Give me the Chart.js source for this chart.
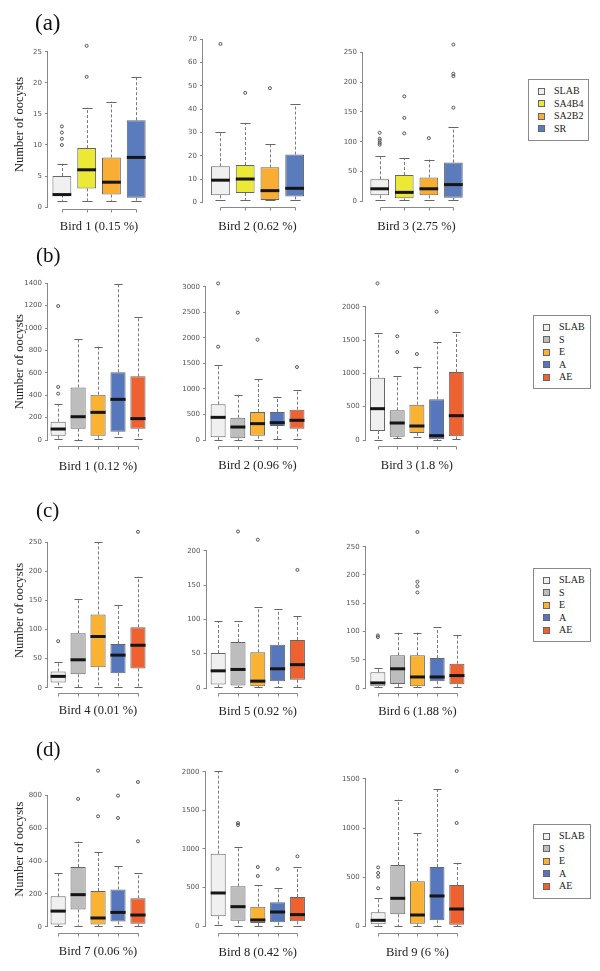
<!DOCTYPE html>
<html><head><meta charset="utf-8">
<script src="https://cdn.jsdelivr.net/npm/chart.js@4.4.0/dist/chart.umd.min.js"></script>
<style>
body{margin:0;background:#fff;width:600px;height:971px;position:relative;overflow:hidden;font-family:"Liberation Serif","Times New Roman",serif;}
canvas{position:absolute;}
.plab{position:absolute;color:#111;white-space:nowrap;}
.leg{position:absolute;border:1px solid #8a8a8a;box-sizing:border-box;}
.li{position:absolute;font-size:10px;line-height:10px;color:#222;white-space:nowrap;}
.sw{position:absolute;width:7px;height:7px;border:1px solid #666;box-sizing:border-box;}
</style></head><body>
<script>
// ---------------- DATA ----------------
const groupsA = ['SLAB','SA4B4','SA2B2','SR'];
const groupsB = ['SLAB','S','E','A','AE'];
const birdLabels = ['Bird 1 (0.15 %)','Bird 2 (0.62 %)','Bird 3 (2.75 %)',
  'Bird 1 (0.12 %)','Bird 2 (0.96 %)','Bird 3 (1.8 %)',
  'Bird 4 (0.01 %)','Bird 5 (0.92 %)','Bird 6 (1.88 %)',
  'Bird 7 (0.06 %)','Bird 8 (0.42 %)','Bird 9 (6 %)'];
const panelLetters = ['(a)','(b)','(c)','(d)'];
const yAxisTitle = 'Number of oocysts';
const yTicks = [
  [0,5,10,15,20,25],[0,10,20,30,40,50,60,70],[0,50,100,150,200,250],
  [0,200,400,600,800,1000,1200,1400],[0,500,1000,1500,2000,2500,3000],[0,500,1000,1500,2000],
  [0,50,100,150,200,250],[0,50,100,150,200],[0,50,100,150,200,250],
  [0,200,400,600,800],[0,500,1000,1500,2000],[0,500,1000,1500]
];
const whiskerLow = [
  [1,1,1,1],[1,1,1,1],[2,2,2,2],
  [6,0,12,30,6],[0,0,0,20,13],[0,30,45,0,15],
  [2,1,1,1,1],[1.5,1.5,1,1,1],[2,2,2,2,2],
  [2,6,2,6,2],[13,0,0,0,0],[7,3,3,3,3]
];
const quartile1 = [
  [2,3,2,1.5],[3,4,1,2.5],[10,5,10,6],
  [39,101,39,74,101],[52,33,85,274,222],[135,50,105,10,55],
  [9,23,35,25,33],[5,3.5,2.5,10,12],[3,7,3,12,6.5],
  [14,105,14,32,18],[129,73,43,52,65],[20,122,27,61,17]
];
const medians = [
  [2,6,4,8],[9.5,10,5,6],[21,15,21,28],
  [98,208,247,363,191],[443,254,320,339,385],[470,255,210,65,365],
  [19.5,48,88,56,73],[25,27,10,28,34],[9,34,19.5,19.5,22],
  [95,195,53,87,71],[431,254,82,185,151],[61,285,115,309,176]
];
const quartile3 = [
  [5,9.5,8,14],[15.5,16,15,20.5],[37,44,40,65],
  [164,470,405,605,569],[698,437,548,548,594],[935,445,530,610,1020],
  [28,93.5,126,75,104],[51,67,52,63,70],[28,58,58,53,43],
  [185,363,217,227,173],[940,517,254,310,379],[143,624,458,604,421]
];
const whiskerHigh = [
  [7,16,17,21],[30,34,25,42],[76,72,70,124],
  [322,906,834,1390,1102],[1461,887,1187,848,978],[1600,965,1100,1465,1615],
  [45,153,250,143,191],[97,97,118,115,105],[36,98,98,108,93],
  [325,518,453,370,325],[2009,1030,530,491,767],[292,1290,954,1398,641]
];
const outliers = [
  [[10,11,12,13],[21,26],[],[]],
  [[68],[47],[49],[]],
  [[95,98,102,105,115],[114,140,176],[106],[157,210,214,263]],
  [[414,474,1197],[],[],[],[]],
  [[1826,3065],[2492],[1963],[],[1428]],
  [[2350],[1320,1555],[1290],[1925],[]],
  [[80],[],[],[],[268]],
  [[],[228],[216],[],[172]],
  [[90,93],[],[169,180,188,276],[],[]],
  [[],[778],[672,950],[662,798],[520,881]],
  [[],[1310,1336],[651,767],[741],[905]],
  [[387,505,543,600],[],[],[],[1052,1581]]
];
// axis upper limits (values)
const yUpper = [27,71,270, 1450,3150,2420, 275,234,283, 980,2080,1640];

// ---------------- STYLE / LAYOUT ----------------
const colorsA = ['#f0f0f0','#ece836','#f9ad33','#5a7cbd'];
const colorsB = ['#f0f0f0','#bdbdbd','#f9b232','#5677bc','#ee6231'];
// x: y-axis pixel, x1: first box centre, w: box spacing, p0: pixel of 0, pt: pixel of top tick, base: x-axis line, label: x-title centre
const layout = [
  {x:48,   x1:62,    w:25,    p0:207,   pt:52,    base:209.3, label:227},
  {x:203,  x1:220.7, w:25.1,  p0:202.3, pt:39.3,  base:207.3, label:226.7},
  {x:363,  x1:380,   w:25,    p0:201.3, pt:52.3,  base:207.3, label:226.7},
  {x:48,   x1:58.3,  w:20.25, p0:440,   pt:283.3, base:445.7, label:466.7},
  {x:206,  x1:218.3, w:20,    p0:440,   pt:286.7, base:445.7, label:466},
  {x:365.7,x1:377.7, w:20,    p0:440,   pt:306.7, base:445.7, label:465.5},
  {x:48,   x1:58.3,  w:20.25, p0:687.7, pt:542.3, base:693.3, label:711},
  {x:206.5,x1:218.3, w:20,    p0:688,   pt:550.7, base:693.3, label:711.7},
  {x:365.7,x1:378,   w:20,    p0:688,   pt:546.7, base:693.3, label:712},
  {x:48,   x1:58.3,  w:20.25, p0:926.7, pt:795.3, base:932.7, label:951.7},
  {x:205.5,x1:218.3, w:20,    p0:926.3, pt:771.7, base:932.7, label:952.3},
  {x:365.7,x1:378.3, w:19.9,  p0:926.3, pt:779,   base:932.7, label:952.3}
];
const letterPos = [{l:35,t:11,s:23},{l:36,t:245,s:21},{l:36,t:500,s:21},{l:36,t:739,s:21}];
const legendPos = [{l:528,t:79,w:61,h:62},{l:533,t:315,w:58,h:74},{l:533,t:568,w:58,h:74},{l:533,t:824,w:58,h:75}];

function boxPlugin(i){
  return {
    id:'boxparts'+i,
    beforeDatasetsDraw(chart){
      const ctx = chart.ctx, xs = chart.scales.x, ys = chart.scales.y, ca = chart.chartArea;
      const meta = chart.getDatasetMeta(0);
      const tk = yTicks[i];
      ctx.save();
      ctx.strokeStyle = '#888'; ctx.lineWidth = 1;
      // y axis line across tick range
      const ax = Math.round(ca.left) - 0.5;
      ctx.beginPath();
      ctx.moveTo(ax, ys.getPixelForValue(tk[0]));
      ctx.lineTo(ax, ys.getPixelForValue(tk[tk.length-1]));
      ctx.stroke();
      // x axis bracket with tick marks at each group
      const n = meta.data.length;
      const by = Math.round(ca.bottom) + 0.5;
      ctx.beginPath();
      ctx.moveTo(Math.round(xs.getPixelForValue(1)) + 0.5, by);
      ctx.lineTo(Math.round(xs.getPixelForValue(n)) + 0.5, by);
      for (let j = 1; j <= n; j++) {
        const tx = Math.round(xs.getPixelForValue(j)) + 0.5;
        ctx.moveTo(tx, by); ctx.lineTo(tx, by + 3);
      }
      ctx.stroke();
      // whiskers
      meta.data.forEach((bar, j) => {
        const x = Math.round(bar.x) + 0.5;
        const cap = bar.width * 0.27;
        const yl = ys.getPixelForValue(whiskerLow[i][j]);
        const y1 = ys.getPixelForValue(quartile1[i][j]);
        const y3 = ys.getPixelForValue(quartile3[i][j]);
        const yh = ys.getPixelForValue(whiskerHigh[i][j]);
        ctx.strokeStyle = '#7a7a7a';
        ctx.setLineDash([3,2]);
        ctx.beginPath();
        ctx.moveTo(x, y3); ctx.lineTo(x, yh);
        ctx.moveTo(x, y1); ctx.lineTo(x, yl);
        ctx.stroke();
        ctx.setLineDash([]);
        ctx.strokeStyle = '#666';
        ctx.beginPath();
        ctx.moveTo(x - cap, Math.round(yh) + 0.5); ctx.lineTo(x + cap, Math.round(yh) + 0.5);
        ctx.moveTo(x - cap, Math.round(yl) + 0.5); ctx.lineTo(x + cap, Math.round(yl) + 0.5);
        ctx.stroke();
      });
      ctx.restore();
    },
    afterDatasetsDraw(chart){
      const ctx = chart.ctx, ys = chart.scales.y;
      const meta = chart.getDatasetMeta(0);
      ctx.save();
      ctx.strokeStyle = '#151515'; ctx.lineWidth = 3;
      meta.data.forEach((bar, j) => {
        const y = ys.getPixelForValue(medians[i][j]);
        ctx.beginPath();
        ctx.moveTo(bar.x - bar.width/2, y); ctx.lineTo(bar.x + bar.width/2, y);
        ctx.stroke();
      });
      ctx.restore();
    }
  };
}

for (let i = 0; i < 12; i++) {
  const groups = i < 3 ? groupsA : groupsB;
  const colors = i < 3 ? colorsA : colorsB;
  const L = layout[i], col = i % 3;
  const tk = yTicks[i], T = tk[tk.length-1];
  const k = (L.p0 - L.pt) / T;
  const ymax = yUpper[i];
  const ymin = -(L.base - L.p0) / k;
  const chartTop = L.p0 - ymax * k;
  const n = groups.length;
  const xmin = 1 - (L.x1 - L.x) / L.w, xmax = n + (1 - xmin);
  const chartW = (xmax - xmin) * L.w;
  const ywTarget = col === 0 ? L.x : 36;
  const left = Math.round(L.x - ywTarget);
  const yw = L.x - left;
  const top = Math.round(chartTop - 8);
  const padTop = chartTop - top;
  const width = Math.ceil(yw + chartW + 3);
  const padRight = width - yw - chartW;
  const height = Math.ceil(L.base - top + (L.label - L.base) + 10);
  const xh = height - (L.base - top);
  const titleSize = 12.5, titleLH = titleSize * 1.2;
  const titlePadBottom = (height - (L.label - top)) - titleLH / 2;

  const cv = document.createElement('canvas');
  cv.width = width; cv.height = height;
  cv.style.left = left + 'px'; cv.style.top = top + 'px';
  cv.style.width = width + 'px'; cv.style.height = height + 'px';
  document.body.appendChild(cv);

  const pts = [];
  outliers[i].forEach((arr, j) => arr.forEach(v => pts.push({x: j + 1, y: v})));

  new Chart(cv, {
    type: 'bar',
    data: {
      datasets: [
        {type:'bar', label:'box', data: groups.map((g, j) => ({x: j + 1, y: [quartile1[i][j], quartile3[i][j]]})),
          backgroundColor: colors, borderColor: '#666', borderWidth: 1, borderSkipped: false,
          barPercentage: 0.76, categoryPercentage: 1, order: 2},
        {type:'scatter', label:'outliers', data: pts, pointRadius: 1.5, pointBorderWidth: 0.9,
          pointBorderColor: '#444', pointBackgroundColor: 'rgba(255,255,255,0)', showLine: false, order: 1}
      ]
    },
    options: {
      responsive: false, animation: false, devicePixelRatio: 1,
      layout: {padding: {top: padTop, left: 0, right: padRight, bottom: 0}},
      plugins: {legend: {display: false}, tooltip: {enabled: false}},
      scales: {
        x: {type: 'linear', bounds: 'data', min: xmin, max: xmax, offset: false,
          afterBuildTicks: s => { s.ticks = groups.map((g, j) => ({value: j + 1})); },
          afterFit: s => { s.height = xh; },
          ticks: {display: false},
          grid: {display: false},
          border: {display: false},
          title: {display: true, text: birdLabels[i], color: '#222',
            font: {family: 'Liberation Serif', size: titleSize, lineHeight: 1.2},
            padding: {top: 0, bottom: titlePadBottom}}
        },
        y: {type: 'linear', bounds: 'data', min: ymin, max: ymax,
          afterBuildTicks: s => { s.ticks = tk.map(v => ({value: v})); },
          afterFit: s => { s.width = yw; },
          ticks: {font: {family: 'DejaVu Sans', size: 7}, color: '#555', padding: 3, callback: v => String(v)},
          grid: {drawOnChartArea: false, drawTicks: true, tickLength: 3, color: '#888'},
          border: {display: false},
          title: {display: col === 0, text: yAxisTitle, color: '#222',
            font: {family: 'Liberation Serif', size: 12.5, lineHeight: 1.2},
            padding: {top: 12.5, bottom: 0}}
        }
      }
    },
    plugins: [boxPlugin(i)]
  });
}

// panel letters
panelLetters.forEach((t, r) => {
  const d = document.createElement('div');
  d.className = 'plab';
  const p = letterPos[r];
  d.style.left = p.l + 'px'; d.style.top = p.t + 'px';
  d.style.fontSize = p.s + 'px'; d.style.lineHeight = p.s + 'px';
  d.textContent = t;
  document.body.appendChild(d);
});

// legends
legendPos.forEach((p, r) => {
  const groups = r === 0 ? groupsA : groupsB;
  const colors = r === 0 ? colorsA : colorsB;
  const box = document.createElement('div');
  box.className = 'leg';
  box.style.left = p.l + 'px'; box.style.top = p.t + 'px';
  box.style.width = p.w + 'px'; box.style.height = p.h + 'px';
  groups.forEach((g, j) => {
    const cy = 12.4 + j * 12.4;
    const sw = document.createElement('div');
    sw.className = 'sw';
    sw.style.left = '9px'; sw.style.top = (cy - 4.5) + 'px';
    sw.style.background = colors[j];
    box.appendChild(sw);
    const tx = document.createElement('div');
    tx.className = 'li';
    tx.style.left = '25px'; tx.style.top = (cy - 6) + 'px';
    tx.textContent = g;
    box.appendChild(tx);
  });
  document.body.appendChild(box);
});
</script>
</body></html>
